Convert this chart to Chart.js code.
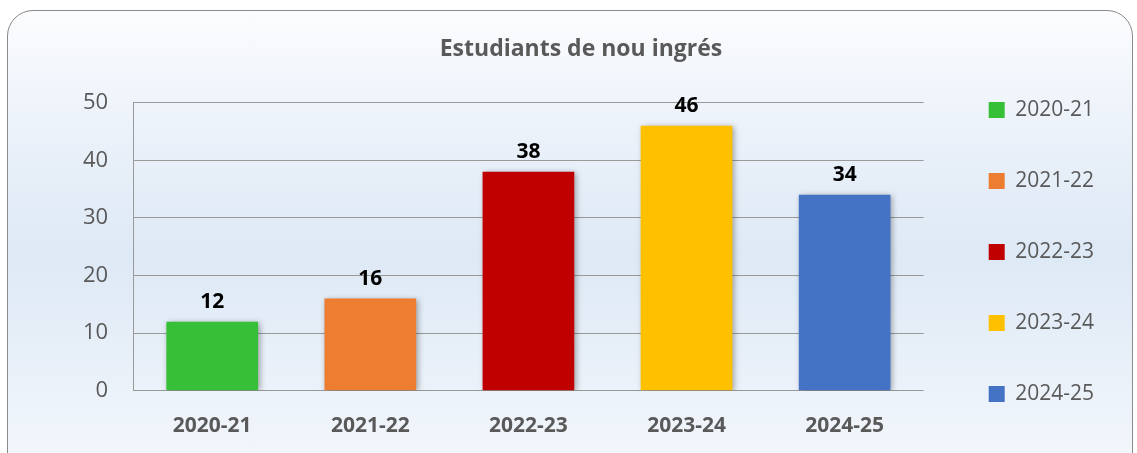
<!DOCTYPE html>
<html>
<head>
<meta charset="utf-8">
<script src="https://cdn.jsdelivr.net/npm/chart.js@4"></script>
<style>
  body { margin: 0; background: #ffffff; }
  #frame {
    position: absolute;
    left: 7px;
    top: 10px;
    width: 1124px;
    height: 470px;
    border: 1.5px solid #8a8a8a;
    border-radius: 26px;
    background: linear-gradient(to bottom, #fbfcfe 0%, #e9f0f9 30%, #dde9f5 52%, #e9f0f9 75%, #f4f8fc 100%);
    overflow: hidden;
  }
  #chartBox { position: absolute; left: 0; top: 0; width: 1124px; height: 460px; }
</style>
</head>
<body>
<div id="frame">
  <div id="chartBox"><canvas id="chart"></canvas></div>
</div>
<script>
const categories = ['2020-21', '2021-22', '2022-23', '2023-24', '2024-25'];
const students = [12, 16, 38, 46, 34];
const barColors = ['#37c037', '#ed7d31', '#c00000', '#ffc000', '#4472c4'];
const yTicks = [0, 10, 20, 30, 40, 50];

const fontFamily = '"Open Sans", sans-serif';
const textGrey = '#595959';

// shadow behind the bars
const barShadow = {
  id: 'barShadow',
  beforeDatasetsDraw(chart) {
    const ctx = chart.ctx;
    ctx.save();
    ctx.shadowColor = 'rgba(0, 0, 0, 0.35)';
    ctx.shadowBlur = 6;
    ctx.shadowOffsetX = 2;
    ctx.shadowOffsetY = 1;
  },
  afterDatasetsDraw(chart) {
    chart.ctx.restore();
  }
};

// value labels above each bar
const valueLabels = {
  id: 'valueLabels',
  afterDatasetsDraw(chart) {
    const ctx = chart.ctx;
    ctx.save();
    ctx.font = 'bold 21px ' + fontFamily;
    ctx.fillStyle = '#000000';
    ctx.textAlign = 'center';
    ctx.textBaseline = 'bottom';
    chart.getDatasetMeta(0).data.forEach((bar, i) => {
      ctx.fillText(students[i], bar.x, bar.y - 9);
    });
    ctx.restore();
  }
};

const ctx = document.getElementById('chart').getContext('2d');
new Chart(ctx, {
  type: 'bar',
  data: {
    labels: categories,
    datasets: [{
      label: 'Estudiants',
      data: students,
      backgroundColor: barColors,
      borderWidth: 0,
      barPercentage: 0.58,
      categoryPercentage: 1
    }]
  },
  options: {
    responsive: true,
    maintainAspectRatio: false,
    animation: false,
    layout: { padding: { left: 50, right: 28, top: 0, bottom: 9 } },
    plugins: {
      title: {
        display: true,
        text: 'Estudiants de nou ingrés',
        color: textGrey,
        font: { family: fontFamily, size: 23, weight: 'bold' },
        padding: { top: 25, bottom: 39 }
      },
      legend: {
        position: 'right',
        title: { display: true, text: ' ', font: { size: 1 }, padding: { top: 30, bottom: 0 } },
        labels: {
          generateLabels: () => categories.map((c, i) => ({
            text: c,
            fillStyle: barColors[i],
            strokeStyle: barColors[i],
            lineWidth: 0,
            fontColor: textGrey,
            index: i
          })),
          boxWidth: 16,
          boxHeight: 16,
          padding: 50,
          color: textGrey,
          font: { family: fontFamily, size: 21 }
        }
      },
      tooltip: { enabled: false }
    },
    scales: {
      x: {
        grid: { display: false, drawTicks: false },
        border: { display: false },
        ticks: {
          color: textGrey,
          padding: 23,
          font: { family: fontFamily, size: 21, weight: 'bold' }
        }
      },
      y: {
        min: 0,
        max: 50,
        afterBuildTicks: (axis) => { axis.ticks = yTicks.map(v => ({ value: v })); },
        grid: { color: '#9a9a9a', lineWidth: 1, drawTicks: false },
        border: { display: true, color: '#9a9a9a', width: 1 },
        ticks: {
          color: textGrey,
          padding: 25,
          font: { family: fontFamily, size: 22 }
        }
      },
      // empty spacer between plot and legend
      gap: {
        type: 'linear',
        position: 'right',
        display: true,
        grid: { display: false },
        border: { display: false },
        ticks: { display: false },
        afterFit: (axis) => { axis.width = 15; }
      }
    }
  },
  plugins: [barShadow, valueLabels]
});
</script>
</body>
</html>
